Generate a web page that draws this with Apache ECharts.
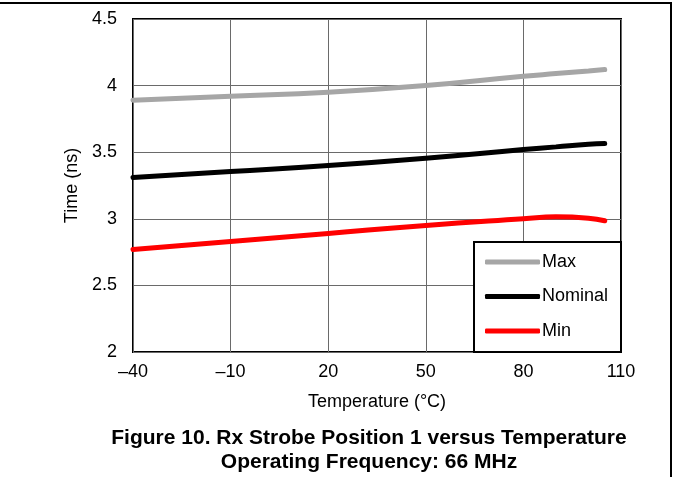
<!DOCTYPE html>
<html><head><meta charset="utf-8">
<script src="https://cdn.jsdelivr.net/npm/echarts@6/dist/echarts.min.js"></script>
<style>html,body{margin:0;padding:0;background:#fff}#c{width:673px;height:477px}</style>
</head><body><div id="c"></div>
<script>
const temps = [-40, -10, 20, 50, 80, 90, 100, 105];
const maxVals = [3.89, 3.92, 3.95, 4.00, 4.07, 4.09, 4.11, 4.12];
const nomVals = [3.31, 3.355, 3.40, 3.455, 3.52, 3.54, 3.56, 3.565];
const minVals = [2.77, 2.83, 2.89, 2.95, 3.00, 3.015, 3.005, 2.985];
const xTicks = [-40, -10, 20, 50, 80, 110];
const yTicks = [2, 2.5, 3, 3.5, 4, 4.5];
const seriesNames = ['Max', 'Nominal', 'Min'];
const colors = ['#a6a6a6', '#000000', '#ff0000'];

const font = 'Liberation Sans, Arial, sans-serif';
const chart = echarts.init(document.getElementById('c'));
const pair = v => temps.map((t, i) => [t, v[i]]);
const data = [maxVals, nomVals, minVals];

chart.setOption({
  animation: false,
  backgroundColor: '#fff',
  grid: {left: 133, right: 52, top: 19, bottom: 125, show: true, borderColor: '#000', borderWidth: 2, backgroundColor: 'transparent'},
  xAxis: {
    type: 'value', min: -40, max: 110, interval: 30,
    name: 'Temperature (°C)', nameLocation: 'middle', nameGap: 41,
    nameTextStyle: {fontFamily: font, fontSize: 18, color: '#000'},
    axisLine: {show: false}, axisTick: {show: false},
    axisLabel: {fontFamily: font, fontSize: 18, color: '#000', margin: 11,
      formatter: v => String(v).replace('-', '\u2013')},
    splitLine: {show: true, lineStyle: {color: '#6a6a6a', width: 1}}
  },
  yAxis: {
    type: 'value', min: 2, max: 4.5, interval: 0.5,
    name: 'Time (ns)', nameLocation: 'middle', nameGap: 49,
    nameTextStyle: {fontFamily: font, fontSize: 18, color: '#000'},
    axisLine: {show: false}, axisTick: {show: false},
    axisLabel: {fontFamily: font, fontSize: 18, color: '#000', margin: 16},
    splitLine: {show: true, lineStyle: {color: '#6a6a6a', width: 1}}
  },
  legend: {
    orient: 'vertical', left: 485, top: 253, padding: 0, z: 10,
    icon: 'roundRect', itemWidth: 55, itemHeight: 5, itemGap: 16.5,
    textStyle: {fontFamily: font, fontSize: 18, color: '#000', padding: [0, 0, 0, -3]},
    data: seriesNames
  },
  title: {
    text: 'Figure 10. Rx Strobe Position 1 versus Temperature\nOperating Frequency: 66 MHz',
    left: 364, top: 421, textAlign: 'center',
    textStyle: {fontFamily: font, fontSize: 21, fontWeight: 'bold', color: '#000', lineHeight: 24}
  },
  graphic: [
    {type: 'rect', shape: {x: 474, y: 242, width: 147, height: 110}, style: {fill: '#fff', stroke: '#000', lineWidth: 2}, z: 4},
    {type: 'line', shape: {x1: 0, y1: 3, x2: 672, y2: 3}, style: {stroke: '#000', lineWidth: 2}},
    {type: 'line', shape: {x1: 671, y1: 3, x2: 671, y2: 477}, style: {stroke: '#000', lineWidth: 2}}
  ],
  series: seriesNames.map((n, i) => ({
    name: n, type: 'line', smooth: true, symbol: 'none',
    data: pair(data[i]), color: colors[i],
    lineStyle: {width: 5, color: colors[i], cap: 'round'}, z: 3
  }))
});
</script></body></html>
